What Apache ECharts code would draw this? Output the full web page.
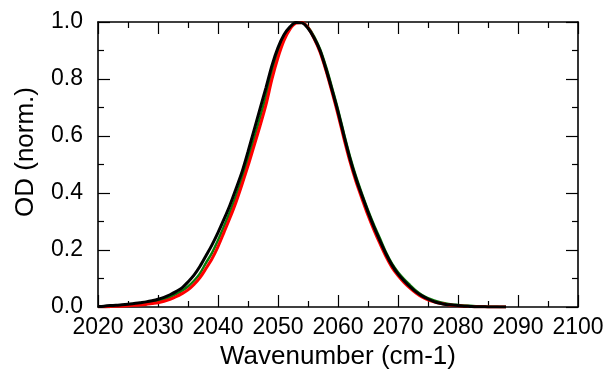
<!DOCTYPE html>
<html>
<head>
  <meta charset="utf-8">
  <script src="https://cdn.jsdelivr.net/npm/echarts@6/dist/echarts.min.js"></script>
  <title>OD spectrum</title>
  <style>
    html, body { margin: 0; padding: 0; background: #fff; }
  </style>
</head>
<body>
<div id="main" style="width:608px;height:379px;"></div>
<script type="text/javascript">
  // wavenumber grid (cm-1)
  var wavenumbers = [
    2020, 2021, 2022, 2023, 2024, 2025, 2026, 2027, 2028, 2029,
    2030, 2031, 2032, 2033, 2034, 2035, 2036, 2037, 2038, 2039,
    2040, 2041, 2042, 2043, 2044, 2045, 2046, 2047, 2048, 2049,
    2050, 2051, 2052, 2053, 2054, 2055, 2056, 2057, 2058, 2059,
    2060, 2061, 2062, 2063, 2064, 2065, 2066, 2067, 2068, 2069,
    2070, 2071, 2072, 2073, 2074, 2075, 2076, 2077, 2078, 2079,
    2080, 2081, 2082, 2083, 2084, 2085, 2086, 2087, 2088
  ];

  // normalised OD
  var odBlack = [
    0.002, 0.003, 0.005, 0.006, 0.008, 0.010, 0.012, 0.015, 0.018, 0.022,
    0.027, 0.034, 0.043, 0.054, 0.067, 0.088, 0.112, 0.143, 0.180, 0.218,
    0.261, 0.308, 0.358, 0.415, 0.474, 0.545, 0.620, 0.695, 0.770, 0.848,
    0.910, 0.955, 0.983, 0.998, 0.997, 0.978, 0.945, 0.900, 0.835, 0.762,
    0.685, 0.600, 0.520, 0.450, 0.390, 0.333, 0.280, 0.232, 0.186, 0.147,
    0.116, 0.092, 0.071, 0.053, 0.039, 0.028, 0.019, 0.013, 0.009, 0.007,
    0.005, 0.003, 0.002, 0.001, 0.001, 0, 0, 0, 0
  ];
  var odRed = [
    0.001, 0.001, 0.002, 0.003, 0.003, 0.004, 0.006, 0.007, 0.009, 0.012,
    0.015, 0.020, 0.027, 0.036, 0.047, 0.060, 0.079, 0.103, 0.135, 0.169,
    0.212, 0.262, 0.313, 0.368, 0.430, 0.495, 0.565, 0.635, 0.710, 0.800,
    0.875, 0.935, 0.975, 0.996, 0.998, 0.980, 0.943, 0.895, 0.830, 0.755,
    0.675, 0.590, 0.510, 0.440, 0.380, 0.322, 0.270, 0.222, 0.177, 0.139,
    0.110, 0.086, 0.066, 0.049, 0.035, 0.025, 0.018, 0.013, 0.009, 0.006,
    0.004, 0.003, 0.002, 0.001, 0.001, 0, 0, 0, 0
  ];
  var odGreen = [
    0.002, 0.002, 0.003, 0.004, 0.005, 0.007, 0.009, 0.011, 0.013, 0.017,
    0.021, 0.027, 0.035, 0.045, 0.057, 0.072, 0.092, 0.118, 0.155, 0.190,
    0.234, 0.283, 0.334, 0.390, 0.450, 0.518, 0.590, 0.664, 0.740, 0.823,
    0.892, 0.945, 0.980, 0.997, 0.998, 0.982, 0.950, 0.905, 0.843, 0.770,
    0.693, 0.608, 0.528, 0.458, 0.397, 0.340, 0.288, 0.240, 0.192, 0.152,
    0.122, 0.098, 0.077, 0.057, 0.042, 0.031, 0.023, 0.017, 0.012, 0.009,
    0.007, 0.005, 0.004, 0.003, 0.002, 0.001, 0.001, 0, 0
  ];

  function pairs(ys) {
    return wavenumbers.map(function (x, i) { return [x, ys[i]]; });
  }

  var font = '"Liberation Sans", Arial, sans-serif';
  var lineStyleAxis = { color: '#000', width: 1.6 };

  // common frame axis style: ticks inside, minor ticks halfway
  function frameAxis(extra) {
    var base = {
      axisLine: { show: true, onZero: false, lineStyle: lineStyleAxis },
      axisTick: { show: true, inside: true, length: 12, lineStyle: { color: '#000', width: 1.2 } },
      minorTick: { show: true, splitNumber: 2, length: 6, lineStyle: { color: '#000', width: 1.2 } },
      splitLine: { show: false },
      minorSplitLine: { show: false }
    };
    return Object.assign(base, extra);
  }

  var myChart = echarts.init(document.getElementById('main'), null, { renderer: 'canvas' });

  var option = {
    backgroundColor: '#ffffff',
    animation: false,
    grid: { left: 98, right: 30, top: 22, bottom: 72 },
    xAxis: [
      frameAxis({
        type: 'value', min: 2020, max: 2100, interval: 10,
        name: 'Wavenumber (cm-1)', nameLocation: 'middle', nameGap: 36,
        nameTextStyle: { fontFamily: font, fontSize: 26, color: '#000' },
        axisLabel: {
          fontFamily: font, fontSize: 23, color: '#000', margin: 9,
          formatter: function (v) { return String(v); }
        }
      }),
      frameAxis({
        type: 'value', position: 'top', min: 2020, max: 2100, interval: 10,
        axisLabel: { show: false }
      })
    ],
    yAxis: [
      frameAxis({
        type: 'value', min: 0, max: 1, interval: 0.2,
        name: 'OD (norm.)', nameLocation: 'middle', nameGap: 59,
        nameTextStyle: { fontFamily: font, fontSize: 26, color: '#000', padding: [0, 0, 0, 25] },
        axisLabel: {
          fontFamily: font, fontSize: 23, color: '#000', margin: 15,
          formatter: function (v) { return v.toFixed(1); }
        }
      }),
      frameAxis({
        type: 'value', position: 'right', min: 0, max: 1, interval: 0.2,
        axisLabel: { show: false }
      })
    ],
    series: [
      {
        name: 'green', type: 'line', data: pairs(odGreen), showSymbol: false,
        smooth: 0.3, lineStyle: { color: '#0a7d0a', width: 2.5 }, z: 2
      },
      {
        name: 'red', type: 'line', data: pairs(odRed), showSymbol: false,
        smooth: 0.3, lineStyle: { color: '#ff0000', width: 3 }, z: 3
      },
      {
        name: 'black', type: 'line', data: pairs(odBlack), showSymbol: false,
        smooth: 0.3, lineStyle: { color: '#000000', width: 3 }, z: 4
      }
    ]
  };

  myChart.setOption(option);

  window.addEventListener('resize', function () {
    myChart.resize();
  });
</script>
</body>
</html>
